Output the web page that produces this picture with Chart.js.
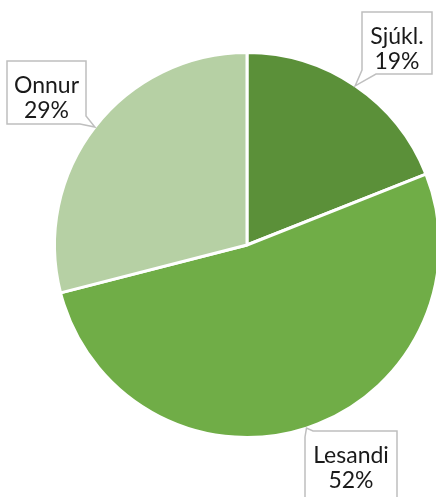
<!DOCTYPE html>
<html>
<head>
<meta charset="utf-8">
<script src="https://cdn.jsdelivr.net/npm/chart.js@4"></script>
<style>
  html, body { margin: 0; padding: 0; background: #fff; }
  #wrap { width: 436px; height: 497px; overflow: hidden; position: relative; }
</style>
</head>
<body>
<div id="wrap"><canvas id="myChart" width="500" height="497"></canvas></div>
<script>
// Data
const labels = ['Sjúkl.', 'Lesandi', 'Onnur'];
const shares = [19, 52, 29];
const sliceColors = ['#5b9039', '#70ad47', '#b6d0a4'];

// callout boxes (x, y, w, h) and which corner the pointer leaves from
const boxes = [
  { x: 362, y: 12, w: 70, h: 62, corner: 'bl' },
  { x: 305, y: 431, w: 92, h: 70, corner: 'tl' },
  { x: 7, y: 61, w: 79, h: 63, corner: 'br' }
];

function calloutPath(ctx, b, tip) {
  const L = b.x, T = b.y, R = b.x + b.w, B = b.y + b.h;
  let pts;
  if (b.corner === 'bl') {
    pts = [[L, T], [R, T], [R, B], [L + 14, B], tip, [L, B - 4]];
  } else if (b.corner === 'br') {
    pts = [[L, T], [R, T], [R, B - 8], tip, [R - 6, B], [L, B]];
  } else {
    pts = [[L + 8, T], [R, T], [R, B], [L, B], [L, T + 6], tip];
  }
  ctx.beginPath();
  ctx.moveTo(pts[0][0], pts[0][1]);
  for (let i = 1; i < pts.length; i++) ctx.lineTo(pts[i][0], pts[i][1]);
  ctx.closePath();
}

const calloutPlugin = {
  id: 'callouts',
  afterDraw(chart) {
    const ctx = chart.ctx;
    const meta = chart.getDatasetMeta(0);
    meta.data.forEach((arc, i) => {
      const mid = (arc.startAngle + arc.endAngle) / 2;
      const tip = [arc.x + Math.cos(mid) * arc.outerRadius, arc.y + Math.sin(mid) * arc.outerRadius];
      const b = boxes[i];
      ctx.save();
      calloutPath(ctx, b, tip);
      ctx.fillStyle = '#ffffff';
      ctx.fill();
      ctx.strokeStyle = '#bfbfbf';
      ctx.lineWidth = 1.5;
      ctx.stroke();
      ctx.fillStyle = '#1a1a1a';
      ctx.font = '23px Lato, "Open Sans", sans-serif';
      ctx.textAlign = 'center';
      ctx.textBaseline = 'alphabetic';
      const cx = b.x + b.w / 2;
      ctx.fillText(labels[i], cx, b.y + 32);
      ctx.fillText(shares[i] + '%', cx, b.y + 57);
      ctx.restore();
    });
  }
};

const ctx = document.getElementById('myChart').getContext('2d');
const myChart = new Chart(ctx, {
  type: 'pie',
  data: {
    labels: labels,
    datasets: [{
      data: shares,
      backgroundColor: sliceColors,
      borderColor: '#ffffff',
      borderWidth: 3
    }]
  },
  options: {
    responsive: false,
    animation: false,
    layout: { padding: { left: 53, top: 51, right: 59, bottom: 58 } },
    plugins: {
      legend: { display: false },
      tooltip: { enabled: false }
    }
  },
  plugins: [calloutPlugin]
});
</script>
</body>
</html>
